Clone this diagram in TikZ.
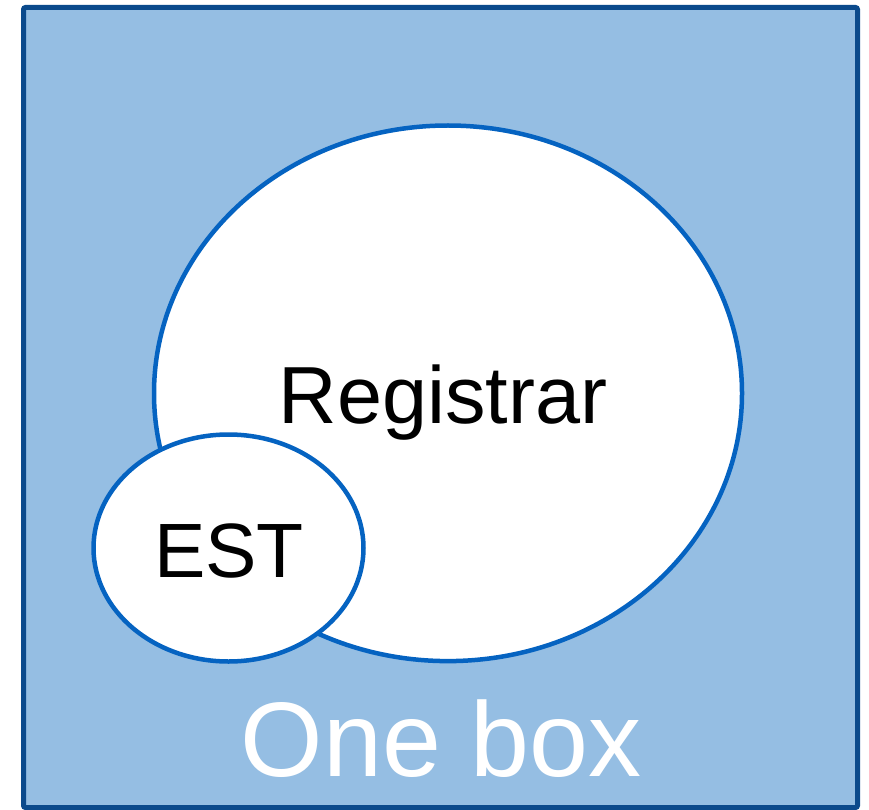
\documentclass[tikz,border=0pt]{standalone}
\usepackage{fontspec}
\setmainfont{Liberation Sans}
\usetikzlibrary{shapes.geometric}
\definecolor{boxfill}{HTML}{95BEE3}
\definecolor{boxline}{HTML}{0B4A8C}
\definecolor{ringline}{HTML}{0563C1}
\tikzset{
  frame/.style={draw=boxline, fill=boxfill, line width=5pt, rounded corners=2pt},
  ring/.style={draw=ringline, fill=white, line width=4.5pt},
  label/.style={anchor=base, inner sep=0pt}
}
\begin{document}
\begin{tikzpicture}[x=1pt, y=-1pt]
  \useasboundingbox (0,0) rectangle (869,810);
  % outer box
  \draw[frame] (23.5,7.5) rectangle (857.5,807.5);
  % registrar and EST regions
  \draw[ring] (448,393.3) ellipse [x radius=294, y radius=267.8];
  \draw[ring] (228.5,548) ellipse [x radius=135, y radius=113.5];
  % labels
  \node[label, font=\fontsize{81}{90}\selectfont] (reg) at (443,423) {Registrar};
  \node[label, font=\fontsize{77}{86}\selectfont] (est) at (229,577) {EST};
  \node[label, font=\fontsize{106}{120}\selectfont, text=white] (one) at (441,776) {One box};
\end{tikzpicture}
\end{document}
